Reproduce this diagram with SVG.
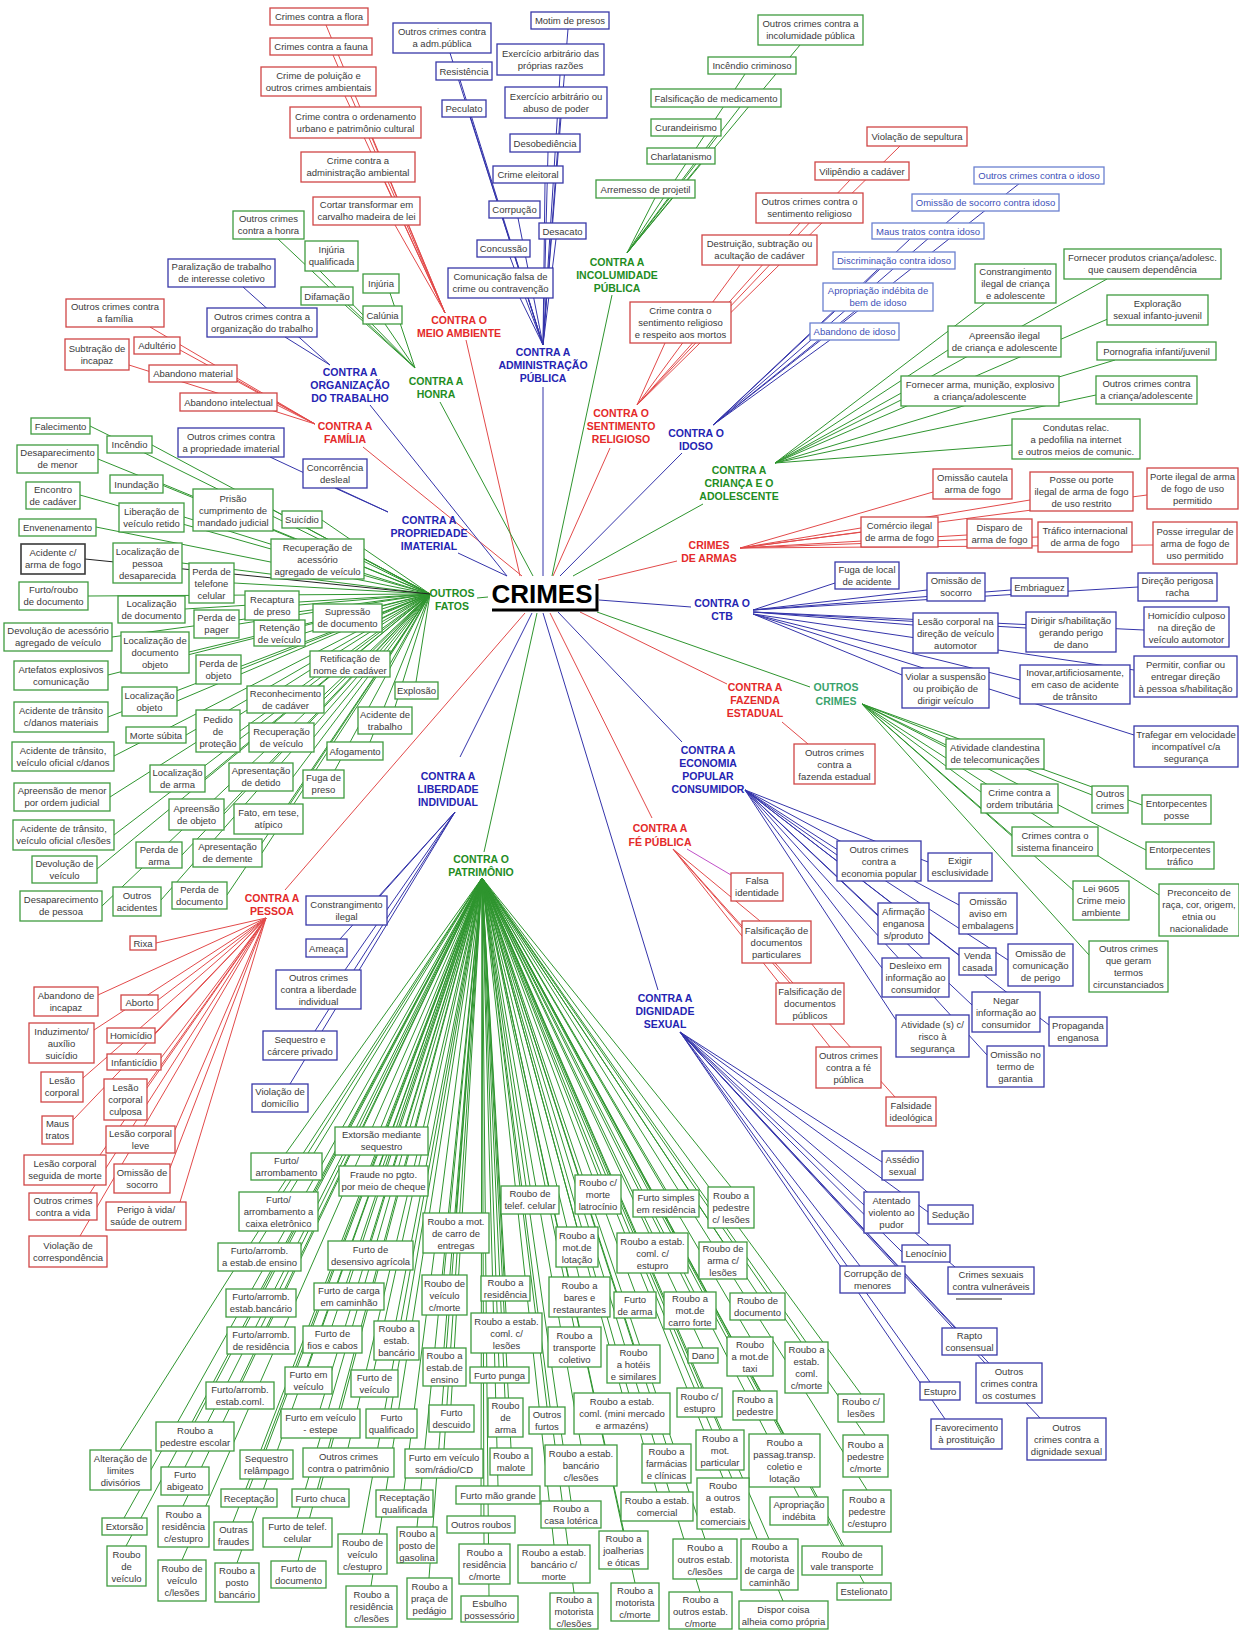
<svg xmlns="http://www.w3.org/2000/svg" width="1239" height="1630" viewBox="0 0 1239 1630">
<style>
.r,.g,.b,.k,.i{fill:#fff;stroke-width:1.3}
.r{stroke:#d04545}.g{stroke:#3f9b3f}.b{stroke:#3838a8}.k{stroke:#3a3a3a;stroke-width:1.6}.i{stroke:#6a80d0}
text{font-family:"Liberation Sans",Arial,sans-serif;font-size:9.5px;fill:#3a3a3a;text-anchor:middle}
text.q{fill:#4050b8}
.h{font-weight:bold;font-size:10.5px}
.hr{fill:#e42a2a}.hg{fill:#1f8d1f}.hb{fill:#2424b2}.ht{fill:#3aa36c}
.lr,.lg,.lb,.lk,.lp{fill:none;stroke-width:1}
.lr{stroke:#e24a4a}.lg{stroke:#2f952f}.lb{stroke:#3434aa}.lk{stroke:#222}.lp{stroke:#c050c8}
</style>
<rect width="1239" height="1630" fill="#fff"/>

<!-- connectors: hub to categories, categories to leaves -->
<g id="connectors">
<path class="lr" d="M520 576L466 340M553 576L610 448M598 580L677 561M580 612L727 684M550 613L652 818M525 613L285 890M522 576L363 447"/>
<path class="lb" d="M543 576V387M560 576L682 453M599 600L691 607M558 612L682 742M543 613L658 990M532 613L460 757M507 576L458 553M507 576L370 405"/>
<path class="lg" d="M533 576L440 402M552 576L612 295M573 576L703 504M597 612L810 687M537 613L484 852M477 598L488 597"/>
<path class="lr" d="M445 313L326 25M445 313L333 55M445 313L345 96M445 313L372 138M445 313L385 182M445 313L395 225"/>
<path class="lr" d="M637 405L665 343M637 405L740 265M637 405L800 223M637 405L850 180M637 405L900 146"/>
<path class="lr" d="M740 548L933 492M740 548L1030 500M740 548L1147 495M740 548L861 532M740 548L967 535M740 548L1038 537M740 548L1153 545"/>
<path class="lr" d="M782 722L808 744"/>
<path class="lr" d="M673 849L760 921M673 849L790 983M673 849L830 1047M673 849L895 1097"/>
<path class="lp" d="M687 849L731 875"/>
<path class="lr" d="M266 918L156 943M266 918L98 995M266 918L158 1000M266 918L94 1030M266 918L155 1033M266 918L161 1058M266 918L83 1078M266 918L147 1085M266 918L73 1120M266 918L175 1130M266 918L100 1155M266 918L170 1168M266 918L90 1193M266 918L180 1202M266 918L80 1236"/>
<path class="lr" d="M315 424L150 327M315 424L129 365M315 424L180 350M315 424L237 380M315 424L277 405"/>
<path class="lb" d="M543 345L450 53M543 345L460 80M543 345L470 117M543 345L568 29M543 345L560 75M543 345L560 118M543 345L548 152M543 345L545 183M543 345L518 218M543 345L556 239M543 345L510 257M543 345L520 298"/>
<path class="lb" d="M713 425L830 340M713 425L855 311M713 425L880 269M713 425L910 239M713 425L960 211M713 425L1020 183"/>
<path class="lb" d="M753 610L835 583M753 610L927 590M753 610L1011 590M753 610L1138 587M753 612L913 625M753 612L1026 628M753 612L1144 630M753 614L902 675M753 614L1020 680M753 614L1134 670M753 614L1134 735"/>
<path class="lb" d="M745 790L837 855M745 790L928 862M745 790L878 915M745 790L959 905M745 790L959 955M745 790L1008 960M745 790L882 968M745 790L972 1005M745 790L1049 1025M745 790L896 1020M745 790L987 1055"/>
<path class="lb" d="M680 1032L882 1162M680 1032L864 1205M680 1032L928 1212M680 1032L902 1252M680 1032L860 1266M680 1032L955 1267M680 1032L955 1328M680 1032L985 1363M680 1032L930 1382M680 1032L945 1419M680 1032L1040 1418"/>
<path class="lb" d="M455 812L380 896M455 812L340 939M455 812L345 970M455 812L315 1031M455 812L290 1084"/>
<path class="lb" d="M330 365L243 287M330 365L285 337M388 512L335 488M388 512L270 457"/>
<path class="lg" d="M415 368L278 239M415 368L320 271M415 368L390 293M415 368L345 305M415 368L385 324"/>
<path class="lg" d="M627 253L800 45M627 253L745 74M627 253L740 107M627 253L715 136M627 253L700 164M627 253L655 198"/>
<path class="lg" d="M775 463L1107 279M775 463L985 303M775 463L1110 318M775 463L948 350M775 463L1115 360M775 463L901 400M775 463L1096 395M775 463L1012 445"/>
<path class="lg" d="M862 704L946 745M862 704L981 792M862 704L1092 795M862 704L1142 805M862 704L1012 835M862 704L1146 850M862 704L1159 895M862 704L1073 890M862 704L1089 955"/>
<path class="lg" d="M430 594L90 426M430 594L152 445M430 594L98 459M430 594L163 484M430 594L80 495M430 594L273 510M430 594L184 517M430 594L322 520M430 594L96 527M430 594L182 563M430 594L364 559M430 594L234 583M430 594L88 596M430 594L185 609M430 594L299 605M430 594L305 633M430 594L239 624M430 594L382 618M430 594L112 637M430 594L189 652M430 594L108 675M430 594L241 669M430 594L390 664M430 594L416 682M430 594L177 701M430 594L324 699M430 594L108 717M430 594L395 707M430 594L186 735M430 594L240 731M430 594L314 737M430 594L370 742M430 594L114 756M430 594L205 778M430 594L293 777M430 594L335 770M430 594L110 797M430 594L224 814M430 594L290 804M430 594L114 835M430 594L182 855M430 594L262 853M430 594L97 869M430 594L102 906M430 594L161 900M430 594L227 895"/>
<path class="lk" d="M430 594L85 559"/>
<path class="lg" d="M482 878L381 1127M482 878L286 1153M482 878L383 1166M482 878L278 1192M482 878L530 1186M482 878L598 1175M482 878L666 1190M482 878L731 1187M482 878L456 1213M482 878L577 1227M482 878L652 1233M482 878L723 1242M482 878L259 1243M482 878L370 1241M482 878L444 1275M482 878L505 1276M482 878L579 1277M482 878L635 1292M482 878L690 1292M482 878L757 1293M482 878L261 1289M482 878L349 1283M482 878L506 1313M482 878L574 1327M482 878L633 1345M482 878L703 1348M482 878L750 1337M482 878L806 1342M482 878L396 1321M482 878L261 1327M482 878L332 1326M482 878L444 1348M482 878L499 1367M482 878L699 1388M482 878L755 1391M482 878L861 1394M482 878L308 1367M482 878L374 1370M482 878L240 1382M482 878L451 1405M482 878L505 1398M482 878L547 1407M482 878L622 1393M482 878L320 1409M482 878L391 1409M482 878L195 1422M482 878L720 1430M482 878L784 1434M482 878L865 1435M482 878L120 1450M482 878L266 1450M482 878L348 1448M482 878L444 1449M482 878L511 1448M482 878L581 1445M482 878L666 1444M482 878L185 1467M482 878L249 1489M482 878L320 1489M482 878L404 1490M482 878L498 1486M482 878L723 1478M482 878L799 1497M482 878L657 1492M482 878L571 1501M482 878L481 1516M482 878L867 1490M482 878L124 1518M482 878L183 1506M482 878L233 1522M482 878L297 1518M482 878L362 1534M482 878L417 1527M482 878L623 1531M482 878L705 1539M482 878L769 1539M482 878L842 1546M482 878L864 1583M482 878L126 1546M482 878L182 1560M482 878L237 1563M482 878L298 1561M482 878L484 1544M482 878L554 1545M482 878L371 1586M482 878L429 1578M482 878L489 1596M482 878L574 1593M482 878L635 1583M482 878L700 1592M482 878L783 1601"/>
<path d="M956 1299H1002" stroke="#222" stroke-width="1.2"/>
</g>

<!-- central node -->
<g id="crimes">
<text x="542" y="603" style="font-size:26px;font-weight:bold;fill:#000">CRIMES</text>
<path d="M492 610H597V584" fill="none" stroke="#000" stroke-width="3"/>
</g>

<!-- category labels -->
<g id="cat-meio-ambiente"><text class="h hr" x="459" y="324">CONTRA O<tspan x="459" dy="13">MEIO AMBIENTE</tspan></text></g>
<g id="cat-adm-publica"><text class="h hb" x="543" y="356">CONTRA A<tspan x="543" dy="13">ADMINISTRAÇÃO</tspan><tspan x="543" dy="13">PÚBLICA</tspan></text></g>
<g id="cat-incolumidade"><text class="h hg" x="617" y="266">CONTRA A<tspan x="617" dy="13">INCOLUMIDADE</tspan><tspan x="617" dy="13">PÚBLICA</tspan></text></g>
<g id="cat-sentimento"><text class="h hr" x="621" y="417">CONTRA O<tspan x="621" dy="13">SENTIMENTO</tspan><tspan x="621" dy="13">RELIGIOSO</tspan></text></g>
<g id="cat-idoso"><text class="h hb" x="696" y="437">CONTRA O<tspan x="696" dy="12.5">IDOSO</tspan></text></g>
<g id="cat-crianca"><text class="h hg" x="739" y="474">CONTRA A<tspan x="739" dy="13">CRIANÇA E O</tspan><tspan x="739" dy="13">ADOLESCENTE</tspan></text></g>
<g id="cat-armas"><text class="h hr" x="709" y="549">CRIMES<tspan x="709" dy="13">DE ARMAS</tspan></text></g>
<g id="cat-ctb"><text class="h hb" x="722" y="607">CONTRA O<tspan x="722" dy="13">CTB</tspan></text></g>
<g id="cat-outros-crimes"><text class="h ht" x="836" y="691">OUTROS<tspan x="836" dy="13.5">CRIMES</tspan></text></g>
<g id="cat-fazenda"><text class="h hr" x="755" y="691">CONTRA A<tspan x="755" dy="13">FAZENDA</tspan><tspan x="755" dy="13">ESTADUAL</tspan></text></g>
<g id="cat-economia"><text class="h hb" x="708" y="754">CONTRA A<tspan x="708" dy="13">ECONOMIA</tspan><tspan x="708" dy="13">POPULAR</tspan><tspan x="708" dy="13">CONSUMIDOR</tspan></text></g>
<g id="cat-fe-publica"><text class="h hr" x="660" y="832">CONTRA A<tspan x="660" dy="13.5">FÉ PÚBLICA</tspan></text></g>
<g id="cat-dignidade"><text class="h hb" x="665" y="1002">CONTRA A<tspan x="665" dy="13">DIGNIDADE</tspan><tspan x="665" dy="13">SEXUAL</tspan></text></g>
<g id="cat-patrimonio"><text class="h hg" x="481" y="863">CONTRA O<tspan x="481" dy="13">PATRIMÔNIO</tspan></text></g>
<g id="cat-liberdade"><text class="h hb" x="448" y="780">CONTRA A<tspan x="448" dy="13">LIBERDADE</tspan><tspan x="448" dy="13">INDIVIDUAL</tspan></text></g>
<g id="cat-pessoa"><text class="h hr" x="272" y="902">CONTRA A<tspan x="272" dy="12.5">PESSOA</tspan></text></g>
<g id="cat-familia"><text class="h hr" x="345" y="430">CONTRA A<tspan x="345" dy="13">FAMÍLIA</tspan></text></g>
<g id="cat-organizacao"><text class="h hb" x="350" y="376">CONTRA A<tspan x="350" dy="13">ORGANIZAÇÃO</tspan><tspan x="350" dy="13">DO TRABALHO</tspan></text></g>
<g id="cat-honra"><text class="h hg" x="436" y="385">CONTRA A<tspan x="436" dy="13">HONRA</tspan></text></g>
<g id="cat-propriedade"><text class="h hb" x="429" y="524">CONTRA A<tspan x="429" dy="13">PROPRIEDADE</tspan><tspan x="429" dy="13">IMATERIAL</tspan></text></g>
<g id="cat-outros-fatos"><text class="h hg" x="452" y="597">OUTROS<tspan x="452" dy="13">FATOS</tspan></text></g>

<!-- meio ambiente -->
<g id="ma1"><rect class="r" x="270" y="8" width="98" height="17"/><text x="319" y="20">Crimes contra a flora</text></g>
<g id="ma2"><rect class="r" x="270" y="38" width="102" height="17"/><text x="321" y="50">Crimes contra a fauna</text></g>
<g id="ma3"><rect class="r" x="261" y="67" width="115" height="29"/><text x="318.5" y="79">Crime de poluição e<tspan x="318.5" dy="12">outros crimes ambientais</tspan></text></g>
<g id="ma4"><rect class="r" x="290" y="107" width="131" height="31"/><text x="355.5" y="120">Crime contra o ordenamento<tspan x="355.5" dy="12">urbano e patrimônio cultural</tspan></text></g>
<g id="ma5"><rect class="r" x="301" y="152" width="114" height="30"/><text x="358" y="164">Crime contra a<tspan x="358" dy="12">administração ambiental</tspan></text></g>
<g id="ma6"><rect class="r" x="313" y="197" width="107" height="28"/><text x="366.5" y="208">Cortar transformar em<tspan x="366.5" dy="12">carvalho madeira de lei</tspan></text></g>

<!-- administração pública -->
<g id="ap1"><rect class="b" x="393" y="23" width="98" height="30"/><text x="442" y="35">Outros crimes contra<tspan x="442" dy="12">a adm.pública</tspan></text></g>
<g id="ap2"><rect class="b" x="531" y="12" width="78" height="17"/><text x="570" y="24">Motim de presos</text></g>
<g id="ap3"><rect class="b" x="497" y="44" width="107" height="31"/><text x="550.5" y="57">Exercício arbitrário das<tspan x="550.5" dy="12">próprias razões</tspan></text></g>
<g id="ap4"><rect class="b" x="436" y="62" width="56" height="18"/><text x="464" y="74.5">Resistência</text></g>
<g id="ap5"><rect class="b" x="505" y="87" width="102" height="31"/><text x="556" y="100">Exercício arbitrário ou<tspan x="556" dy="12">abuso de poder</tspan></text></g>
<g id="ap6"><rect class="b" x="442" y="100" width="44" height="17"/><text x="464" y="112">Peculato</text></g>
<g id="ap7"><rect class="b" x="510" y="134" width="70" height="18"/><text x="545" y="146.5">Desobediência</text></g>
<g id="ap8"><rect class="b" x="493" y="166" width="70" height="17"/><text x="528" y="178">Crime eleitoral</text></g>
<g id="ap9"><rect class="b" x="489" y="201" width="51" height="17"/><text x="514.5" y="213">Corrpução</text></g>
<g id="ap10"><rect class="b" x="539" y="223" width="47" height="16"/><text x="562.5" y="234.5">Desacato</text></g>
<g id="ap11"><rect class="b" x="477" y="240" width="53" height="17"/><text x="503.5" y="252">Concussão</text></g>
<g id="ap12"><rect class="b" x="448" y="268" width="105" height="30"/><text x="500.5" y="280">Comunicação falsa de<tspan x="500.5" dy="12">crime ou contravenção</tspan></text></g>

<!-- incolumidade pública -->
<g id="ip1"><rect class="g" x="758" y="15" width="105" height="30"/><text x="810.5" y="27">Outros crimes contra a<tspan x="810.5" dy="12">incolumidade pública</tspan></text></g>
<g id="ip2"><rect class="g" x="708" y="57" width="88" height="17"/><text x="752" y="69">Incêndio criminoso</text></g>
<g id="ip3"><rect class="g" x="651" y="89" width="130" height="18"/><text x="716" y="101.5">Falsificação de medicamento</text></g>
<g id="ip4"><rect class="g" x="651" y="119" width="70" height="17"/><text x="686" y="131">Curandeirismo</text></g>
<g id="ip5"><rect class="g" x="647" y="148" width="68" height="16"/><text x="681" y="159.5">Charlatanismo</text></g>
<g id="ip6"><rect class="g" x="596" y="180" width="99" height="18"/><text x="645.5" y="192.5">Arremesso de projetil</text></g>

<!-- sentimento religioso -->
<g id="sr1"><rect class="r" x="867" y="127" width="100" height="19"/><text x="917" y="140">Violação de sepultura</text></g>
<g id="sr2"><rect class="r" x="815" y="162" width="94" height="18"/><text x="862" y="174.5">Vilipêndio a cadáver</text></g>
<g id="sr3"><rect class="r" x="756" y="193" width="107" height="30"/><text x="809.5" y="205">Outros  crimes contra o<tspan x="809.5" dy="12">sentimento religioso</tspan></text></g>
<g id="sr4"><rect class="r" x="702" y="235" width="115" height="30"/><text x="759.5" y="247">Destruição, subtração ou<tspan x="759.5" dy="12">acultação de cadáver</tspan></text></g>
<g id="sr5"><rect class="r" x="630" y="302" width="101" height="41"/><text x="680.5" y="314">Crime contra o<tspan x="680.5" dy="12">sentimento religioso</tspan><tspan x="680.5" dy="12">e respeito aos mortos</tspan></text></g>

<!-- idoso -->
<g id="id1"><rect class="i" x="974" y="167" width="130" height="17"/><text class="q" x="1039" y="179">Outros crimes contra o idoso</text></g>
<g id="id2"><rect class="i" x="912" y="194" width="147" height="17"/><text class="q" x="985.5" y="206">Omissão de socorro contra idoso</text></g>
<g id="id3"><rect class="i" x="872" y="223" width="112" height="16"/><text class="q" x="928" y="234.5">Maus tratos contra idoso</text></g>
<g id="id4"><rect class="i" x="833" y="252" width="122" height="17"/><text class="q" x="894" y="264">Discriminação contra idoso</text></g>
<g id="id5"><rect class="i" x="823" y="283" width="110" height="28"/><text class="q" x="878" y="294">Apropriação indébita de<tspan x="878" dy="12">bem de idoso</tspan></text></g>
<g id="id6"><rect class="i" x="810" y="323" width="89" height="17"/><text class="q" x="854.5" y="335">Abandono de idoso</text></g>

<!-- criança e adolescente -->
<g id="ca1"><rect class="g" x="1064" y="249" width="157" height="30"/><text x="1142.5" y="261">Fornecer produtos criança/adolesc.<tspan x="1142.5" dy="12">que causem dependência</tspan></text></g>
<g id="ca2"><rect class="g" x="975" y="264" width="81" height="39"/><text x="1015.5" y="275">Constrangimento<tspan x="1015.5" dy="12">ilegal de criança</tspan><tspan x="1015.5" dy="12">e adolescente</tspan></text></g>
<g id="ca3"><rect class="g" x="1107" y="295" width="101" height="30"/><text x="1157.5" y="307">Exploração<tspan x="1157.5" dy="12">sexual infanto-juvenil</tspan></text></g>
<g id="ca4"><rect class="g" x="948" y="326" width="113" height="31"/><text x="1004.5" y="339">Apreensão ilegal<tspan x="1004.5" dy="12">de criança e adolescente</tspan></text></g>
<g id="ca5"><rect class="g" x="1097" y="342" width="119" height="18"/><text x="1156.5" y="354.5">Pornografia infanti/juvenil</text></g>
<g id="ca6"><rect class="g" x="901" y="376" width="158" height="30"/><text x="980" y="388">Fornecer arma, munição, explosivo<tspan x="980" dy="12">a criança/adolescente</tspan></text></g>
<g id="ca7"><rect class="g" x="1096" y="376" width="101" height="28"/><text x="1146.5" y="387">Outros crimes contra<tspan x="1146.5" dy="12">a criança/adolescente</tspan></text></g>
<g id="ca8"><rect class="g" x="1012" y="419" width="128" height="40"/><text x="1076" y="430.5">Condutas relac.<tspan x="1076" dy="12">a pedofilia na internet</tspan><tspan x="1076" dy="12">e outros meios  de comunic.</tspan></text></g>

<!-- crimes de armas -->
<g id="ar1"><rect class="r" x="933" y="469" width="79" height="30"/><text x="972.5" y="481">Omissão cautela<tspan x="972.5" dy="12">arma de fogo</tspan></text></g>
<g id="ar2"><rect class="r" x="1030" y="472" width="103" height="39"/><text x="1081.5" y="483">Posse ou porte<tspan x="1081.5" dy="12">ilegal de arma de fogo</tspan><tspan x="1081.5" dy="12">de uso restrito</tspan></text></g>
<g id="ar3"><rect class="r" x="1147" y="468" width="91" height="41"/><text x="1192.5" y="480">Porte ilegal de arma<tspan x="1192.5" dy="12">de fogo de uso</tspan><tspan x="1192.5" dy="12">permitido</tspan></text></g>
<g id="ar4"><rect class="r" x="861" y="517" width="77" height="30"/><text x="899.5" y="529">Comércio ilegal<tspan x="899.5" dy="12">de arma de fogo</tspan></text></g>
<g id="ar5"><rect class="r" x="967" y="519" width="65" height="29"/><text x="999.5" y="531">Disparo de<tspan x="999.5" dy="12">arma de fogo</tspan></text></g>
<g id="ar6"><rect class="r" x="1038" y="522" width="94" height="30"/><text x="1085" y="534">Tráfico internacional<tspan x="1085" dy="12">de arma de fogo</tspan></text></g>
<g id="ar7"><rect class="r" x="1153" y="522" width="84" height="42"/><text x="1195" y="534.5">Posse irregular de<tspan x="1195" dy="12">arma de fogo de</tspan><tspan x="1195" dy="12">uso permitido</tspan></text></g>

<!-- ctb -->
<g id="ct1"><rect class="b" x="835" y="562" width="64" height="27"/><text x="867" y="573">Fuga de local<tspan x="867" dy="12">de acidente</tspan></text></g>
<g id="ct2"><rect class="b" x="927" y="573" width="58" height="28"/><text x="956" y="584">Omissão de<tspan x="956" dy="12">socorro</tspan></text></g>
<g id="ct3"><rect class="b" x="1011" y="578" width="57" height="18"/><text x="1039.5" y="590.5">Embriaguez</text></g>
<g id="ct4"><rect class="b" x="1138" y="573" width="79" height="28"/><text x="1177.5" y="584">Direção perigosa<tspan x="1177.5" dy="12">racha</tspan></text></g>
<g id="ct5"><rect class="b" x="913" y="613" width="85" height="40"/><text x="955.5" y="624.5">Lesão corporal na<tspan x="955.5" dy="12">direção de veículo</tspan><tspan x="955.5" dy="12">automotor</tspan></text></g>
<g id="ct6"><rect class="b" x="1026" y="612" width="90" height="40"/><text x="1071" y="623.5">Dirigir s/habilitação<tspan x="1071" dy="12">gerando perigo</tspan><tspan x="1071" dy="12">de dano</tspan></text></g>
<g id="ct7"><rect class="b" x="1144" y="607" width="85" height="40"/><text x="1186.5" y="618.5">Homicídio culposo<tspan x="1186.5" dy="12">na direção de</tspan><tspan x="1186.5" dy="12">veículo automotor</tspan></text></g>
<g id="ct8"><rect class="b" x="1134" y="656" width="103" height="41"/><text x="1185.5" y="668">Permitir, confiar ou<tspan x="1185.5" dy="12">entregar direção</tspan><tspan x="1185.5" dy="12">à pessoa s/habilitação</tspan></text></g>
<g id="ct9"><rect class="b" x="1020" y="665" width="110" height="39"/><text x="1075" y="676">Inovar,artificiosamente,<tspan x="1075" dy="12">em caso de acidente</tspan><tspan x="1075" dy="12">de trânsito</tspan></text></g>
<g id="ct10"><rect class="b" x="902" y="668" width="87" height="40"/><text x="945.5" y="679.5">Violar a suspensão<tspan x="945.5" dy="12">ou proibição de</tspan><tspan x="945.5" dy="12">dirigir veículo</tspan></text></g>
<g id="ct11"><rect class="b" x="1134" y="726" width="104" height="41"/><text x="1186" y="738">Trafegar em velocidade<tspan x="1186" dy="12">incompatível c/a</tspan><tspan x="1186" dy="12">segurança</tspan></text></g>

<!-- outros crimes -->
<g id="oc1"><rect class="g" x="946" y="739" width="98" height="30"/><text x="995" y="751">Atividade clandestina<tspan x="995" dy="12">de telecomunicações</tspan></text></g>
<g id="oc2"><rect class="g" x="981" y="784" width="77" height="29"/><text x="1019.5" y="796">Crime contra a<tspan x="1019.5" dy="12">ordem tributária</tspan></text></g>
<g id="oc3"><rect class="g" x="1092" y="786" width="36" height="27"/><text x="1110" y="797">Outros<tspan x="1110" dy="12">crimes</tspan></text></g>
<g id="oc4"><rect class="g" x="1142" y="795" width="69" height="29"/><text x="1176.5" y="807">Entorpecentes<tspan x="1176.5" dy="12">posse</tspan></text></g>
<g id="oc5"><rect class="g" x="1012" y="827" width="86" height="29"/><text x="1055" y="839">Crimes contra o<tspan x="1055" dy="12">sistema financeiro</tspan></text></g>
<g id="oc6"><rect class="g" x="1146" y="842" width="68" height="27"/><text x="1180" y="853">Entorpecentes<tspan x="1180" dy="12">tráfico</tspan></text></g>
<g id="oc7"><rect class="g" x="1159" y="884" width="80" height="52"/><text x="1199" y="895.5">Preconceito de<tspan x="1199" dy="12">raça, cor, origem,</tspan><tspan x="1199" dy="12">etnia ou</tspan><tspan x="1199" dy="12">nacionalidade</tspan></text></g>
<g id="oc8"><rect class="g" x="1073" y="881" width="56" height="39"/><text x="1101" y="892">Lei 9605<tspan x="1101" dy="12">Crime meio</tspan><tspan x="1101" dy="12">ambiente</tspan></text></g>
<g id="oc9"><rect class="g" x="1089" y="941" width="79" height="51"/><text x="1128.5" y="952">Outros crimes<tspan x="1128.5" dy="12">que geram</tspan><tspan x="1128.5" dy="12">termos</tspan><tspan x="1128.5" dy="12">circunstanciados</tspan></text></g>

<!-- fazenda estadual -->
<g id="fz1"><rect class="r" x="794" y="744" width="81" height="40"/><text x="834.5" y="755.5">Outros crimes<tspan x="834.5" dy="12">contra a</tspan><tspan x="834.5" dy="12">fazenda estadual</tspan></text></g>

<!-- economia popular / consumidor -->
<g id="ec1"><rect class="b" x="837" y="841" width="84" height="40"/><text x="879" y="852.5">Outros crimes<tspan x="879" dy="12">contra a</tspan><tspan x="879" dy="12">economia popular</tspan></text></g>
<g id="ec2"><rect class="b" x="928" y="853" width="64" height="28"/><text x="960" y="864">Exigir<tspan x="960" dy="12">esclusividade</tspan></text></g>
<g id="ec3"><rect class="b" x="878" y="903" width="51" height="41"/><text x="903.5" y="915">Afirmação<tspan x="903.5" dy="12">enganosa</tspan><tspan x="903.5" dy="12">s/produto</tspan></text></g>
<g id="ec4"><rect class="b" x="959" y="893" width="58" height="41"/><text x="988" y="905">Omissão<tspan x="988" dy="12">aviso em</tspan><tspan x="988" dy="12">embalagens</tspan></text></g>
<g id="ec5"><rect class="b" x="959" y="948" width="37" height="27"/><text x="977.5" y="959">Venda<tspan x="977.5" dy="12">casada</tspan></text></g>
<g id="ec6"><rect class="b" x="1008" y="944" width="65" height="42"/><text x="1040.5" y="956.5">Omissão de<tspan x="1040.5" dy="12">comunicação</tspan><tspan x="1040.5" dy="12">de perigo</tspan></text></g>
<g id="ec7"><rect class="b" x="882" y="958" width="67" height="39"/><text x="915.5" y="969">Desleixo em<tspan x="915.5" dy="12">informação ao</tspan><tspan x="915.5" dy="12">consumidor</tspan></text></g>
<g id="ec8"><rect class="b" x="972" y="992" width="68" height="40"/><text x="1006" y="1003.5">Negar<tspan x="1006" dy="12">informação ao</tspan><tspan x="1006" dy="12">consumidor</tspan></text></g>
<g id="ec9"><rect class="b" x="1049" y="1017" width="58" height="29"/><text x="1078" y="1029">Propaganda<tspan x="1078" dy="12">enganosa</tspan></text></g>
<g id="ec10"><rect class="b" x="896" y="1015" width="73" height="42"/><text x="932.5" y="1027.5">Atividade (s) c/<tspan x="932.5" dy="12">risco à</tspan><tspan x="932.5" dy="12">segurança</tspan></text></g>
<g id="ec11"><rect class="b" x="987" y="1046" width="57" height="41"/><text x="1015.5" y="1058">Omissão no<tspan x="1015.5" dy="12">termo de</tspan><tspan x="1015.5" dy="12">garantia</tspan></text></g>

<!-- fé pública -->
<g id="fp1"><rect class="r" x="731" y="873" width="52" height="28"/><text x="757" y="884">Falsa<tspan x="757" dy="12">identidade</tspan></text></g>
<g id="fp2"><rect class="r" x="742" y="921" width="69" height="42"/><text x="776.5" y="933.5">Falsificação de<tspan x="776.5" dy="12">documentos</tspan><tspan x="776.5" dy="12">particulares</tspan></text></g>
<g id="fp3"><rect class="r" x="776" y="983" width="68" height="41"/><text x="810" y="995">Falsificação de<tspan x="810" dy="12">documentos</tspan><tspan x="810" dy="12">públicos</tspan></text></g>
<g id="fp4"><rect class="r" x="816" y="1047" width="65" height="41"/><text x="848.5" y="1059">Outros crimes<tspan x="848.5" dy="12">contra a fé</tspan><tspan x="848.5" dy="12">pública</tspan></text></g>
<g id="fp5"><rect class="r" x="886" y="1097" width="50" height="29"/><text x="911" y="1109">Falsidade<tspan x="911" dy="12">ideológica</tspan></text></g>

<!-- dignidade sexual -->
<g id="ds1"><rect class="b" x="882" y="1151" width="41" height="29"/><text x="902.5" y="1163">Assédio<tspan x="902.5" dy="12">sexual</tspan></text></g>
<g id="ds2"><rect class="b" x="864" y="1192" width="55" height="41"/><text x="891.5" y="1204">Atentado<tspan x="891.5" dy="12">violento ao</tspan><tspan x="891.5" dy="12">pudor</tspan></text></g>
<g id="ds3"><rect class="b" x="928" y="1205" width="45" height="19"/><text x="950.5" y="1218">Sedução</text></g>
<g id="ds4"><rect class="b" x="902" y="1245" width="48" height="17"/><text x="926" y="1257">Lenocínio</text></g>
<g id="ds5"><rect class="b" x="840" y="1266" width="65" height="27"/><text x="872.5" y="1277">Corrupção de<tspan x="872.5" dy="12">menores</tspan></text></g>
<g id="ds6"><rect class="b" x="948" y="1267" width="86" height="27"/><text x="991" y="1278">Crimes sexuais<tspan x="991" dy="12">contra vulneráveis</tspan></text></g>
<g id="ds7"><rect class="b" x="942" y="1328" width="55" height="27"/><text x="969.5" y="1339">Rapto<tspan x="969.5" dy="12">consensual</tspan></text></g>
<g id="ds8"><rect class="b" x="976" y="1363" width="66" height="40"/><text x="1009" y="1374.5">Outros<tspan x="1009" dy="12">crimes contra</tspan><tspan x="1009" dy="12">os costumes</tspan></text></g>
<g id="ds9"><rect class="b" x="920" y="1382" width="40" height="18"/><text x="940" y="1394.5">Estupro</text></g>
<g id="ds10"><rect class="b" x="931" y="1419" width="71" height="30"/><text x="966.5" y="1431">Favorecimento<tspan x="966.5" dy="12">à prostituição</tspan></text></g>
<g id="ds11"><rect class="b" x="1027" y="1418" width="79" height="42"/><text x="1066.5" y="1430.5">Outros<tspan x="1066.5" dy="12">crimes contra a</tspan><tspan x="1066.5" dy="12">dignidade sexual</tspan></text></g>

<!-- liberdade individual -->
<g id="li1"><rect class="b" x="306" y="896" width="81" height="29"/><text x="346.5" y="908">Constrangimento<tspan x="346.5" dy="12">ilegal</tspan></text></g>
<g id="li2"><rect class="b" x="306" y="939" width="41" height="18"/><text x="326.5" y="951.5">Ameaça</text></g>
<g id="li3"><rect class="b" x="276" y="970" width="85" height="39"/><text x="318.5" y="981">Outros crimes<tspan x="318.5" dy="12">contra a liberdade</tspan><tspan x="318.5" dy="12">individual</tspan></text></g>
<g id="li4"><rect class="b" x="263" y="1031" width="74" height="29"/><text x="300" y="1043">Sequestro e<tspan x="300" dy="12">cárcere privado</tspan></text></g>
<g id="li5"><rect class="b" x="252" y="1084" width="56" height="28"/><text x="280" y="1095">Violação de<tspan x="280" dy="12">domicílio</tspan></text></g>

<!-- pessoa -->
<g id="pe1"><rect class="r" x="130" y="936" width="26" height="14"/><text x="143" y="946.5">Rixa</text></g>
<g id="pe2"><rect class="r" x="34" y="987" width="64" height="29"/><text x="66" y="999">Abandono de<tspan x="66" dy="12">incapaz</tspan></text></g>
<g id="pe3"><rect class="r" x="121" y="995" width="37" height="15"/><text x="139.5" y="1006">Aborto</text></g>
<g id="pe4"><rect class="r" x="29" y="1023" width="65" height="40"/><text x="61.5" y="1034.5">Induzimento/<tspan x="61.5" dy="12">auxílio</tspan><tspan x="61.5" dy="12">suicídio</tspan></text></g>
<g id="pe5"><rect class="r" x="107" y="1028" width="48" height="15"/><text x="131" y="1039">Homicídio</text></g>
<g id="pe6"><rect class="r" x="107" y="1054" width="54" height="16"/><text x="134" y="1065.5">Infanticídio</text></g>
<g id="pe7"><rect class="r" x="41" y="1072" width="42" height="30"/><text x="62" y="1084">Lesão<tspan x="62" dy="12">corporal</tspan></text></g>
<g id="pe8"><rect class="r" x="104" y="1079" width="43" height="41"/><text x="125.5" y="1091">Lesão<tspan x="125.5" dy="12">corporal</tspan><tspan x="125.5" dy="12">culposa</tspan></text></g>
<g id="pe9"><rect class="r" x="42" y="1116" width="31" height="28"/><text x="57.5" y="1127">Maus<tspan x="57.5" dy="12">tratos</tspan></text></g>
<g id="pe10"><rect class="r" x="106" y="1126" width="69" height="27"/><text x="140.5" y="1137">Lesão corporal<tspan x="140.5" dy="12">leve</tspan></text></g>
<g id="pe11"><rect class="r" x="24" y="1155" width="82" height="30"/><text x="65" y="1167">Lesão corporal<tspan x="65" dy="12">seguida de morte</tspan></text></g>
<g id="pe12"><rect class="r" x="114" y="1164" width="56" height="29"/><text x="142" y="1176">Omissão de<tspan x="142" dy="12">socorro</tspan></text></g>
<g id="pe13"><rect class="r" x="29" y="1193" width="68" height="27"/><text x="63" y="1204">Outros crimes<tspan x="63" dy="12">contra a vida</tspan></text></g>
<g id="pe14"><rect class="r" x="106" y="1202" width="80" height="28"/><text x="146" y="1213">Perigo à vida/<tspan x="146" dy="12">saúde de outrem</tspan></text></g>
<g id="pe15"><rect class="r" x="29" y="1236" width="78" height="31"/><text x="68" y="1249">Violação de<tspan x="68" dy="12">correspondência</tspan></text></g>

<!-- família -->
<g id="fa1"><rect class="r" x="66" y="299" width="98" height="28"/><text x="115" y="310">Outros crimes contra<tspan x="115" dy="12">a família</tspan></text></g>
<g id="fa2"><rect class="r" x="65" y="339" width="64" height="31"/><text x="97" y="352">Subtração de<tspan x="97" dy="12">incapaz</tspan></text></g>
<g id="fa3"><rect class="r" x="134" y="337" width="46" height="17"/><text x="157" y="349">Adultério</text></g>
<g id="fa4"><rect class="r" x="149" y="365" width="88" height="17"/><text x="193" y="377">Abandono material</text></g>
<g id="fa5"><rect class="r" x="180" y="393" width="97" height="18"/><text x="228.5" y="405.5">Abandono intelectual</text></g>

<!-- organização do trabalho -->
<g id="ot1"><rect class="b" x="168" y="259" width="107" height="28"/><text x="221.5" y="270">Paralização de trabalho<tspan x="221.5" dy="12">de interesse coletivo</tspan></text></g>
<g id="ot2"><rect class="b" x="207" y="308" width="110" height="29"/><text x="262" y="320">Outros crimes contra a<tspan x="262" dy="12">organização do trabalho</tspan></text></g>

<!-- honra -->
<g id="ho1"><rect class="g" x="233" y="211" width="71" height="28"/><text x="268.5" y="222">Outros crimes<tspan x="268.5" dy="12">contra a honra</tspan></text></g>
<g id="ho2"><rect class="g" x="305" y="241" width="53" height="30"/><text x="331.5" y="253">Injúria<tspan x="331.5" dy="12">qualificada</tspan></text></g>
<g id="ho3"><rect class="g" x="363" y="274" width="36" height="19"/><text x="381" y="287">Injúria</text></g>
<g id="ho4"><rect class="g" x="301" y="287" width="52" height="18"/><text x="327" y="299.5">Difamação</text></g>
<g id="ho5"><rect class="g" x="363" y="306" width="39" height="18"/><text x="382.5" y="318.5">Calúnia</text></g>

<!-- propriedade imaterial -->
<g id="pi1"><rect class="b" x="178" y="428" width="106" height="29"/><text x="231" y="440">Outros crimes contra<tspan x="231" dy="12">a propriedade imaterial</tspan></text></g>
<g id="pi2"><rect class="b" x="303" y="459" width="64" height="29"/><text x="335" y="471">Concorrência<tspan x="335" dy="12">desleal</tspan></text></g>

<!-- outros fatos -->
<g id="of1"><rect class="g" x="31" y="418" width="59" height="16"/><text x="60.5" y="429.5">Falecimento</text></g>
<g id="of2"><rect class="g" x="107" y="436" width="45" height="17"/><text x="129.5" y="448">Incêndio</text></g>
<g id="of3"><rect class="g" x="17" y="445" width="81" height="28"/><text x="57.5" y="456">Desaparecimento<tspan x="57.5" dy="12">de menor</tspan></text></g>
<g id="of4"><rect class="g" x="110" y="475" width="53" height="18"/><text x="136.5" y="487.5">Inundação</text></g>
<g id="of5"><rect class="g" x="26" y="482" width="54" height="27"/><text x="53" y="493">Encontro<tspan x="53" dy="12">de cadáver</tspan></text></g>
<g id="of6"><rect class="g" x="193" y="489" width="80" height="42"/><text x="233" y="501.5">Prisão<tspan x="233" dy="12">cumprimento de</tspan><tspan x="233" dy="12">mandado judicial</tspan></text></g>
<g id="of7"><rect class="g" x="119" y="503" width="65" height="29"/><text x="151.5" y="515">Liberação de<tspan x="151.5" dy="12">veículo retido</tspan></text></g>
<g id="of8"><rect class="g" x="282" y="511" width="40" height="17"/><text x="302" y="523">Suicídio</text></g>
<g id="of9"><rect class="g" x="19" y="519" width="77" height="17"/><text x="57.5" y="531">Envenenamento</text></g>
<g id="of10"><rect class="k" x="21" y="544" width="64" height="30"/><text x="53" y="556">Acidente c/<tspan x="53" dy="12">arma de fogo</tspan></text></g>
<g id="of11"><rect class="g" x="113" y="543" width="69" height="40"/><text x="147.5" y="554.5">Localização de<tspan x="147.5" dy="12">pessoa</tspan><tspan x="147.5" dy="12">desaparecida</tspan></text></g>
<g id="of12"><rect class="g" x="271" y="539" width="93" height="40"/><text x="317.5" y="550.5">Recuperação de<tspan x="317.5" dy="12">acessório</tspan><tspan x="317.5" dy="12">agregado de veículo</tspan></text></g>
<g id="of13"><rect class="g" x="189" y="563" width="45" height="40"/><text x="211.5" y="574.5">Perda de<tspan x="211.5" dy="12">telefone</tspan><tspan x="211.5" dy="12">celular</tspan></text></g>
<g id="of14"><rect class="g" x="19" y="582" width="69" height="28"/><text x="53.5" y="593">Furto/roubo<tspan x="53.5" dy="12">de documento</tspan></text></g>
<g id="of15"><rect class="g" x="118" y="596" width="67" height="27"/><text x="151.5" y="607">Localização<tspan x="151.5" dy="12">de documento</tspan></text></g>
<g id="of16"><rect class="g" x="254" y="620" width="51" height="26"/><text x="279.5" y="630.5">Retenção<tspan x="279.5" dy="12">de veículo</tspan></text></g>
<g id="of17"><rect class="g" x="245" y="591" width="54" height="29"/><text x="272" y="603">Recaptura<tspan x="272" dy="12">de preso</tspan></text></g>
<g id="of18"><rect class="g" x="194" y="610" width="45" height="28"/><text x="216.5" y="621">Perda de<tspan x="216.5" dy="12">pager</tspan></text></g>
<g id="of19"><rect class="g" x="313" y="604" width="69" height="28"/><text x="347.5" y="615">Supressão<tspan x="347.5" dy="12">de documento</tspan></text></g>
<g id="of20"><rect class="g" x="4" y="623" width="108" height="28"/><text x="58" y="634">Devolução de acessório<tspan x="58" dy="12">agregado de veículo</tspan></text></g>
<g id="of21"><rect class="g" x="121" y="632" width="68" height="41"/><text x="155" y="644">Localização de<tspan x="155" dy="12">documento</tspan><tspan x="155" dy="12">objeto</tspan></text></g>
<g id="of22"><rect class="g" x="14" y="661" width="94" height="29"/><text x="61" y="673">Artefatos explosivos<tspan x="61" dy="12">comunicação</tspan></text></g>
<g id="of23"><rect class="g" x="196" y="655" width="45" height="29"/><text x="218.5" y="667">Perda de<tspan x="218.5" dy="12">objeto</tspan></text></g>
<g id="of24"><rect class="g" x="310" y="651" width="80" height="26"/><text x="350" y="661.5">Retificação de<tspan x="350" dy="12">nome de cadáver</tspan></text></g>
<g id="of25"><rect class="g" x="395" y="682" width="43" height="17"/><text x="416.5" y="694">Explosão</text></g>
<g id="of26"><rect class="g" x="122" y="687" width="55" height="29"/><text x="149.5" y="699">Localização<tspan x="149.5" dy="12">objeto</tspan></text></g>
<g id="of27"><rect class="g" x="247" y="686" width="77" height="27"/><text x="285.5" y="697">Reconhecimento<tspan x="285.5" dy="12">de cadáver</tspan></text></g>
<g id="of28"><rect class="g" x="14" y="702" width="94" height="30"/><text x="61" y="714">Acidente de trânsito<tspan x="61" dy="12">c/danos materiais</tspan></text></g>
<g id="of29"><rect class="g" x="358" y="707" width="54" height="27"/><text x="385" y="718">Acidente de<tspan x="385" dy="12">trabalho</tspan></text></g>
<g id="of30"><rect class="g" x="126" y="727" width="60" height="16"/><text x="156" y="738.5">Morte súbita</text></g>
<g id="of31"><rect class="g" x="196" y="710" width="44" height="42"/><text x="218" y="722.5">Pedido<tspan x="218" dy="12">de</tspan><tspan x="218" dy="12">proteção</tspan></text></g>
<g id="of32"><rect class="g" x="249" y="723" width="65" height="29"/><text x="281.5" y="735">Recuperação<tspan x="281.5" dy="12">de veículo</tspan></text></g>
<g id="of33"><rect class="g" x="327" y="742" width="56" height="18"/><text x="355" y="754.5">Afogamento</text></g>
<g id="of34"><rect class="g" x="12" y="742" width="102" height="29"/><text x="63" y="754">Acidente de trânsito,<tspan x="63" dy="12">veículo oficial c/danos</tspan></text></g>
<g id="of35"><rect class="g" x="150" y="765" width="55" height="27"/><text x="177.5" y="776">Localização<tspan x="177.5" dy="12">de arma</tspan></text></g>
<g id="of36"><rect class="g" x="229" y="763" width="64" height="28"/><text x="261" y="774">Apresentação<tspan x="261" dy="12">de detido</tspan></text></g>
<g id="of37"><rect class="g" x="303" y="770" width="41" height="28"/><text x="323.5" y="781">Fuga de<tspan x="323.5" dy="12">preso</tspan></text></g>
<g id="of38"><rect class="g" x="14" y="783" width="96" height="28"/><text x="62" y="794">Apreensão de menor<tspan x="62" dy="12">por ordem judicial</tspan></text></g>
<g id="of39"><rect class="g" x="169" y="799" width="55" height="31"/><text x="196.5" y="812">Apreensão<tspan x="196.5" dy="12">de objeto</tspan></text></g>
<g id="of40"><rect class="g" x="234" y="804" width="69" height="30"/><text x="268.5" y="816">Fato, em tese,<tspan x="268.5" dy="12">atípico</tspan></text></g>
<g id="of41"><rect class="g" x="13" y="820" width="101" height="30"/><text x="63.5" y="832">Acidente de trânsito,<tspan x="63.5" dy="12">veículo oficial c/lesões</tspan></text></g>
<g id="of42"><rect class="g" x="136" y="842" width="46" height="26"/><text x="159" y="852.5">Perda de<tspan x="159" dy="12">arma</tspan></text></g>
<g id="of43"><rect class="g" x="193" y="839" width="69" height="28"/><text x="227.5" y="850">Apresentação<tspan x="227.5" dy="12">de demente</tspan></text></g>
<g id="of44"><rect class="g" x="32" y="856" width="65" height="27"/><text x="64.5" y="867">Devolução de<tspan x="64.5" dy="12">veículo</tspan></text></g>
<g id="of45"><rect class="g" x="20" y="891" width="82" height="30"/><text x="61" y="903">Desaparecimento<tspan x="61" dy="12">de pessoa</tspan></text></g>
<g id="of46"><rect class="g" x="113" y="887" width="48" height="29"/><text x="137" y="899">Outros<tspan x="137" dy="12">acidentes</tspan></text></g>
<g id="of47"><rect class="g" x="172" y="882" width="55" height="27"/><text x="199.5" y="893">Perda de<tspan x="199.5" dy="12">documento</tspan></text></g>

<!-- patrimônio -->
<g id="pa1"><rect class="g" x="335" y="1127" width="93" height="28"/><text x="381.5" y="1138">Extorsão mediante<tspan x="381.5" dy="12">sequestro</tspan></text></g>
<g id="pa2"><rect class="g" x="251" y="1153" width="71" height="27"/><text x="286.5" y="1164">Furto/<tspan x="286.5" dy="12">arrombamento</tspan></text></g>
<g id="pa3"><rect class="g" x="339" y="1166" width="89" height="30"/><text x="383.5" y="1178">Fraude no pgto.<tspan x="383.5" dy="12">por meio de cheque</tspan></text></g>
<g id="pa4"><rect class="g" x="239" y="1192" width="79" height="39"/><text x="278.5" y="1203">Furto/<tspan x="278.5" dy="12">arrombamento a</tspan><tspan x="278.5" dy="12">caixa eletrônico</tspan></text></g>
<g id="pa5"><rect class="g" x="501" y="1186" width="58" height="28"/><text x="530" y="1197">Roubo de<tspan x="530" dy="12">telef. celular</tspan></text></g>
<g id="pa6"><rect class="g" x="575" y="1175" width="46" height="39"/><text x="598" y="1186">Roubo c/<tspan x="598" dy="12">morte</tspan><tspan x="598" dy="12">latrocínio</tspan></text></g>
<g id="pa7"><rect class="g" x="633" y="1190" width="66" height="27"/><text x="666" y="1201">Furto simples<tspan x="666" dy="12">em residência</tspan></text></g>
<g id="pa8"><rect class="g" x="708" y="1187" width="46" height="41"/><text x="731" y="1199">Roubo a<tspan x="731" dy="12">pedestre</tspan><tspan x="731" dy="12">c/ lesões</tspan></text></g>
<g id="pa9"><rect class="g" x="423" y="1213" width="66" height="40"/><text x="456" y="1224.5">Roubo a mot.<tspan x="456" dy="12">de carro de</tspan><tspan x="456" dy="12">entregas</tspan></text></g>
<g id="pa10"><rect class="g" x="556" y="1227" width="42" height="40"/><text x="577" y="1238.5">Roubo a<tspan x="577" dy="12">mot.de</tspan><tspan x="577" dy="12">lotação</tspan></text></g>
<g id="pa11"><rect class="g" x="617" y="1233" width="71" height="40"/><text x="652.5" y="1244.5">Roubo a estab.<tspan x="652.5" dy="12">coml. c/</tspan><tspan x="652.5" dy="12">estupro</tspan></text></g>
<g id="pa12"><rect class="g" x="699" y="1242" width="48" height="37"/><text x="723" y="1252">Roubo de<tspan x="723" dy="12">arma c/</tspan><tspan x="723" dy="12">lesões</tspan></text></g>
<g id="pa13"><rect class="g" x="218" y="1243" width="83" height="28"/><text x="259.5" y="1254">Furto/arromb.<tspan x="259.5" dy="12">a estab.de ensino</tspan></text></g>
<g id="pa14"><rect class="g" x="328" y="1241" width="85" height="29"/><text x="370.5" y="1253">Furto de<tspan x="370.5" dy="12">desensivo agrícola</tspan></text></g>
<g id="pa15"><rect class="g" x="422" y="1275" width="45" height="40"/><text x="444.5" y="1286.5">Roubo de<tspan x="444.5" dy="12">veículo</tspan><tspan x="444.5" dy="12">c/morte</tspan></text></g>
<g id="pa16"><rect class="g" x="481" y="1276" width="49" height="25"/><text x="505.5" y="1286">Roubo a<tspan x="505.5" dy="12">residência</tspan></text></g>
<g id="pa17"><rect class="g" x="549" y="1277" width="61" height="40"/><text x="579.5" y="1288.5">Roubo a<tspan x="579.5" dy="12">bares e</tspan><tspan x="579.5" dy="12">restaurantes</tspan></text></g>
<g id="pa18"><rect class="g" x="614" y="1292" width="42" height="26"/><text x="635" y="1302.5">Furto<tspan x="635" dy="12">de arma</tspan></text></g>
<g id="pa19"><rect class="g" x="664" y="1292" width="52" height="37"/><text x="690" y="1302">Roubo a<tspan x="690" dy="12">mot.de</tspan><tspan x="690" dy="12">carro forte</tspan></text></g>
<g id="pa20"><rect class="g" x="730" y="1293" width="55" height="27"/><text x="757.5" y="1304">Roubo de<tspan x="757.5" dy="12">documento</tspan></text></g>
<g id="pa21"><rect class="g" x="226" y="1289" width="70" height="28"/><text x="261" y="1300">Furto/arromb.<tspan x="261" dy="12">estab.bancário</tspan></text></g>
<g id="pa22"><rect class="g" x="314" y="1283" width="70" height="27"/><text x="349" y="1294">Furto de carga<tspan x="349" dy="12">em caminhão</tspan></text></g>
<g id="pa23"><rect class="g" x="471" y="1313" width="71" height="40"/><text x="506.5" y="1324.5">Roubo a estab.<tspan x="506.5" dy="12">coml. c/</tspan><tspan x="506.5" dy="12">lesões</tspan></text></g>
<g id="pa24"><rect class="g" x="548" y="1327" width="53" height="40"/><text x="574.5" y="1338.5">Roubo a<tspan x="574.5" dy="12">transporte</tspan><tspan x="574.5" dy="12">coletivo</tspan></text></g>
<g id="pa25"><rect class="g" x="607" y="1345" width="53" height="38"/><text x="633.5" y="1355.5">Roubo<tspan x="633.5" dy="12">a hotéis</tspan><tspan x="633.5" dy="12">e similares</tspan></text></g>
<g id="pa26"><rect class="g" x="688" y="1348" width="30" height="15"/><text x="703" y="1359">Dano</text></g>
<g id="pa27"><rect class="g" x="727" y="1337" width="46" height="39"/><text x="750" y="1348">Roubo<tspan x="750" dy="12">a mot.de</tspan><tspan x="750" dy="12">taxi</tspan></text></g>
<g id="pa28"><rect class="g" x="785" y="1342" width="43" height="51"/><text x="806.5" y="1353">Roubo a<tspan x="806.5" dy="12">estab.</tspan><tspan x="806.5" dy="12">coml.</tspan><tspan x="806.5" dy="12">c/morte</tspan></text></g>
<g id="pa29"><rect class="g" x="374" y="1321" width="45" height="39"/><text x="396.5" y="1332">Roubo a<tspan x="396.5" dy="12">estab.</tspan><tspan x="396.5" dy="12">bancário</tspan></text></g>
<g id="pa30"><rect class="g" x="227" y="1327" width="68" height="27"/><text x="261" y="1338">Furto/arromb.<tspan x="261" dy="12">de residência</tspan></text></g>
<g id="pa31"><rect class="g" x="303" y="1326" width="59" height="27"/><text x="332.5" y="1337">Furto de<tspan x="332.5" dy="12">fios e cabos</tspan></text></g>
<g id="pa32"><rect class="g" x="423" y="1348" width="43" height="38"/><text x="444.5" y="1358.5">Roubo a<tspan x="444.5" dy="12">estab.de</tspan><tspan x="444.5" dy="12">ensino</tspan></text></g>
<g id="pa33"><rect class="g" x="470" y="1367" width="59" height="16"/><text x="499.5" y="1378.5">Furto punga</text></g>
<g id="pa34"><rect class="g" x="677" y="1388" width="45" height="29"/><text x="699.5" y="1400">Roubo c/<tspan x="699.5" dy="12">estupro</tspan></text></g>
<g id="pa35"><rect class="g" x="733" y="1391" width="44" height="29"/><text x="755" y="1403">Roubo a<tspan x="755" dy="12">pedestre</tspan></text></g>
<g id="pa36"><rect class="g" x="838" y="1394" width="46" height="28"/><text x="861" y="1405">Roubo c/<tspan x="861" dy="12">lesões</tspan></text></g>
<g id="pa37"><rect class="g" x="285" y="1367" width="47" height="27"/><text x="308.5" y="1378">Furto em<tspan x="308.5" dy="12">veículo</tspan></text></g>
<g id="pa38"><rect class="g" x="351" y="1370" width="47" height="27"/><text x="374.5" y="1381">Furto de<tspan x="374.5" dy="12">veículo</tspan></text></g>
<g id="pa39"><rect class="g" x="206" y="1382" width="68" height="27"/><text x="240" y="1393">Furto/arromb.<tspan x="240" dy="12">estab.coml.</tspan></text></g>
<g id="pa40"><rect class="g" x="429" y="1405" width="45" height="27"/><text x="451.5" y="1416">Furto<tspan x="451.5" dy="12">descuido</tspan></text></g>
<g id="pa41"><rect class="g" x="488" y="1398" width="35" height="39"/><text x="505.5" y="1409">Roubo<tspan x="505.5" dy="12">de</tspan><tspan x="505.5" dy="12">arma</tspan></text></g>
<g id="pa42"><rect class="g" x="529" y="1407" width="36" height="27"/><text x="547" y="1418">Outros<tspan x="547" dy="12">furtos</tspan></text></g>
<g id="pa43"><rect class="g" x="574" y="1393" width="96" height="41"/><text x="622" y="1405">Roubo a estab.<tspan x="622" dy="12">coml. (mini mercado</tspan><tspan x="622" dy="12">e armazéns)</tspan></text></g>
<g id="pa44"><rect class="g" x="281" y="1409" width="79" height="29"/><text x="320.5" y="1421">Furto em veículo<tspan x="320.5" dy="12">- estepe</tspan></text></g>
<g id="pa45"><rect class="g" x="366" y="1409" width="51" height="29"/><text x="391.5" y="1421">Furto<tspan x="391.5" dy="12">qualificado</tspan></text></g>
<g id="pa46"><rect class="g" x="156" y="1422" width="78" height="29"/><text x="195" y="1434">Roubo a<tspan x="195" dy="12">pedestre escolar</tspan></text></g>
<g id="pa47"><rect class="g" x="696" y="1430" width="48" height="40"/><text x="720" y="1441.5">Roubo a<tspan x="720" dy="12">mot.</tspan><tspan x="720" dy="12">particular</tspan></text></g>
<g id="pa48"><rect class="g" x="749" y="1434" width="71" height="53"/><text x="784.5" y="1446">Roubo a<tspan x="784.5" dy="12">passag.transp.</tspan><tspan x="784.5" dy="12">coletio e</tspan><tspan x="784.5" dy="12">lotação</tspan></text></g>
<g id="pa49"><rect class="g" x="843" y="1435" width="45" height="42"/><text x="865.5" y="1447.5">Roubo a<tspan x="865.5" dy="12">pedestre</tspan><tspan x="865.5" dy="12">c/morte</tspan></text></g>
<g id="pa50"><rect class="g" x="90" y="1450" width="61" height="40"/><text x="120.5" y="1461.5">Alteração de<tspan x="120.5" dy="12">limites</tspan><tspan x="120.5" dy="12">divisórios</tspan></text></g>
<g id="pa51"><rect class="g" x="240" y="1450" width="53" height="29"/><text x="266.5" y="1462">Sequestro<tspan x="266.5" dy="12">relâmpago</tspan></text></g>
<g id="pa52"><rect class="g" x="303" y="1448" width="91" height="29"/><text x="348.5" y="1460">Outros crimes<tspan x="348.5" dy="12">contra o patrimônio</tspan></text></g>
<g id="pa53"><rect class="g" x="405" y="1449" width="78" height="29"/><text x="444" y="1461">Furto em veículo<tspan x="444" dy="12">som/rádio/CD</tspan></text></g>
<g id="pa54"><rect class="g" x="490" y="1448" width="42" height="27"/><text x="511" y="1459">Roubo a<tspan x="511" dy="12">malote</tspan></text></g>
<g id="pa55"><rect class="g" x="545" y="1445" width="72" height="41"/><text x="581" y="1457">Roubo a estab.<tspan x="581" dy="12">bancário</tspan><tspan x="581" dy="12">c/lesões</tspan></text></g>
<g id="pa56"><rect class="g" x="642" y="1444" width="49" height="39"/><text x="666.5" y="1455">Roubo a<tspan x="666.5" dy="12">farmácias</tspan><tspan x="666.5" dy="12">e clínicas</tspan></text></g>
<g id="pa57"><rect class="g" x="161" y="1467" width="48" height="28"/><text x="185" y="1478">Furto<tspan x="185" dy="12">abigeato</tspan></text></g>
<g id="pa58"><rect class="g" x="221" y="1489" width="56" height="18"/><text x="249" y="1501.5">Receptação</text></g>
<g id="pa59"><rect class="g" x="292" y="1489" width="57" height="18"/><text x="320.5" y="1501.5">Furto chuca</text></g>
<g id="pa60"><rect class="g" x="376" y="1490" width="57" height="27"/><text x="404.5" y="1501">Receptação<tspan x="404.5" dy="12">qualificada</tspan></text></g>
<g id="pa61"><rect class="g" x="456" y="1486" width="84" height="18"/><text x="498" y="1498.5">Furto mão grande</text></g>
<g id="pa62"><rect class="g" x="697" y="1478" width="52" height="51"/><text x="723" y="1489">Roubo<tspan x="723" dy="12">a outros</tspan><tspan x="723" dy="12">estab.</tspan><tspan x="723" dy="12">comerciais</tspan></text></g>
<g id="pa63"><rect class="g" x="770" y="1497" width="58" height="28"/><text x="799" y="1508">Apropriação<tspan x="799" dy="12">indébita</tspan></text></g>
<g id="pa64"><rect class="g" x="621" y="1492" width="72" height="29"/><text x="657" y="1504">Roubo a estab.<tspan x="657" dy="12">comercial</tspan></text></g>
<g id="pa65"><rect class="g" x="541" y="1501" width="60" height="27"/><text x="571" y="1512">Roubo a<tspan x="571" dy="12">casa lotérica</tspan></text></g>
<g id="pa66"><rect class="g" x="447" y="1516" width="68" height="17"/><text x="481" y="1528">Outros roubos</text></g>
<g id="pa67"><rect class="g" x="843" y="1490" width="48" height="42"/><text x="867" y="1502.5">Roubo a<tspan x="867" dy="12">pedestre</tspan><tspan x="867" dy="12">c/estupro</tspan></text></g>
<g id="pa68"><rect class="g" x="102" y="1518" width="45" height="17"/><text x="124.5" y="1530">Extorsão</text></g>
<g id="pa69"><rect class="g" x="158" y="1506" width="51" height="41"/><text x="183.5" y="1518">Roubo a<tspan x="183.5" dy="12">residência</tspan><tspan x="183.5" dy="12">c/estupro</tspan></text></g>
<g id="pa70"><rect class="g" x="214" y="1522" width="39" height="28"/><text x="233.5" y="1533">Outras<tspan x="233.5" dy="12">fraudes</tspan></text></g>
<g id="pa71"><rect class="g" x="263" y="1518" width="69" height="29"/><text x="297.5" y="1530">Furto de telef.<tspan x="297.5" dy="12">celular</tspan></text></g>
<g id="pa72"><rect class="g" x="338" y="1534" width="49" height="40"/><text x="362.5" y="1545.5">Roubo de<tspan x="362.5" dy="12">veículo</tspan><tspan x="362.5" dy="12">c/estupro</tspan></text></g>
<g id="pa73"><rect class="g" x="397" y="1527" width="40" height="36"/><text x="417" y="1536.5">Roubo a<tspan x="417" dy="12">posto de</tspan><tspan x="417" dy="12">gasolina</tspan></text></g>
<g id="pa74"><rect class="g" x="599" y="1531" width="49" height="38"/><text x="623.5" y="1541.5">Roubo a<tspan x="623.5" dy="12">joalherias</tspan><tspan x="623.5" dy="12">e óticas</tspan></text></g>
<g id="pa75"><rect class="g" x="673" y="1539" width="64" height="40"/><text x="705" y="1550.5">Roubo a<tspan x="705" dy="12">outros estab.</tspan><tspan x="705" dy="12">c/lesões</tspan></text></g>
<g id="pa76"><rect class="g" x="741" y="1539" width="57" height="51"/><text x="769.5" y="1550">Roubo a<tspan x="769.5" dy="12">motorista</tspan><tspan x="769.5" dy="12">de carga de</tspan><tspan x="769.5" dy="12">caminhão</tspan></text></g>
<g id="pa77"><rect class="g" x="802" y="1546" width="80" height="29"/><text x="842" y="1558">Roubo de<tspan x="842" dy="12">vale transporte</tspan></text></g>
<g id="pa78"><rect class="g" x="837" y="1583" width="54" height="17"/><text x="864" y="1595">Estelionato</text></g>
<g id="pa79"><rect class="g" x="107" y="1546" width="39" height="40"/><text x="126.5" y="1557.5">Roubo<tspan x="126.5" dy="12">de</tspan><tspan x="126.5" dy="12">veículo</tspan></text></g>
<g id="pa80"><rect class="g" x="158" y="1560" width="48" height="41"/><text x="182" y="1572">Roubo de<tspan x="182" dy="12">veículo</tspan><tspan x="182" dy="12">c/lesões</tspan></text></g>
<g id="pa81"><rect class="g" x="215" y="1563" width="44" height="39"/><text x="237" y="1574">Roubo a<tspan x="237" dy="12">posto</tspan><tspan x="237" dy="12">bancário</tspan></text></g>
<g id="pa82"><rect class="g" x="271" y="1561" width="55" height="27"/><text x="298.5" y="1572">Furto de<tspan x="298.5" dy="12">documento</tspan></text></g>
<g id="pa83"><rect class="g" x="459" y="1544" width="51" height="40"/><text x="484.5" y="1555.5">Roubo a<tspan x="484.5" dy="12">residência</tspan><tspan x="484.5" dy="12">c/morte</tspan></text></g>
<g id="pa84"><rect class="g" x="518" y="1545" width="72" height="38"/><text x="554" y="1555.5">Roubo a estab.<tspan x="554" dy="12">bancário c/</tspan><tspan x="554" dy="12">morte</tspan></text></g>
<g id="pa85"><rect class="g" x="346" y="1586" width="51" height="41"/><text x="371.5" y="1598">Roubo a<tspan x="371.5" dy="12">residência</tspan><tspan x="371.5" dy="12">c/lesões</tspan></text></g>
<g id="pa86"><rect class="g" x="407" y="1578" width="45" height="41"/><text x="429.5" y="1590">Roubo a<tspan x="429.5" dy="12">praça de</tspan><tspan x="429.5" dy="12">pedágio</tspan></text></g>
<g id="pa87"><rect class="g" x="461" y="1596" width="57" height="26"/><text x="489.5" y="1606.5">Esbulho<tspan x="489.5" dy="12">possessório</tspan></text></g>
<g id="pa88"><rect class="g" x="550" y="1593" width="48" height="36"/><text x="574" y="1603">Roubo a<tspan x="574" dy="12">motorista</tspan><tspan x="574" dy="12">c/lesões</tspan></text></g>
<g id="pa89"><rect class="g" x="611" y="1583" width="48" height="38"/><text x="635" y="1593.5">Roubo a<tspan x="635" dy="12">motorista</tspan><tspan x="635" dy="12">c/morte</tspan></text></g>
<g id="pa90"><rect class="g" x="669" y="1592" width="63" height="37"/><text x="700.5" y="1602.5">Roubo a<tspan x="700.5" dy="12">outros estab.</tspan><tspan x="700.5" dy="12">c/morte</tspan></text></g>
<g id="pa91"><rect class="g" x="739" y="1601" width="89" height="28"/><text x="783.5" y="1613">Dispor coisa<tspan x="783.5" dy="12">alheia como própria</tspan></text></g>
</svg>
